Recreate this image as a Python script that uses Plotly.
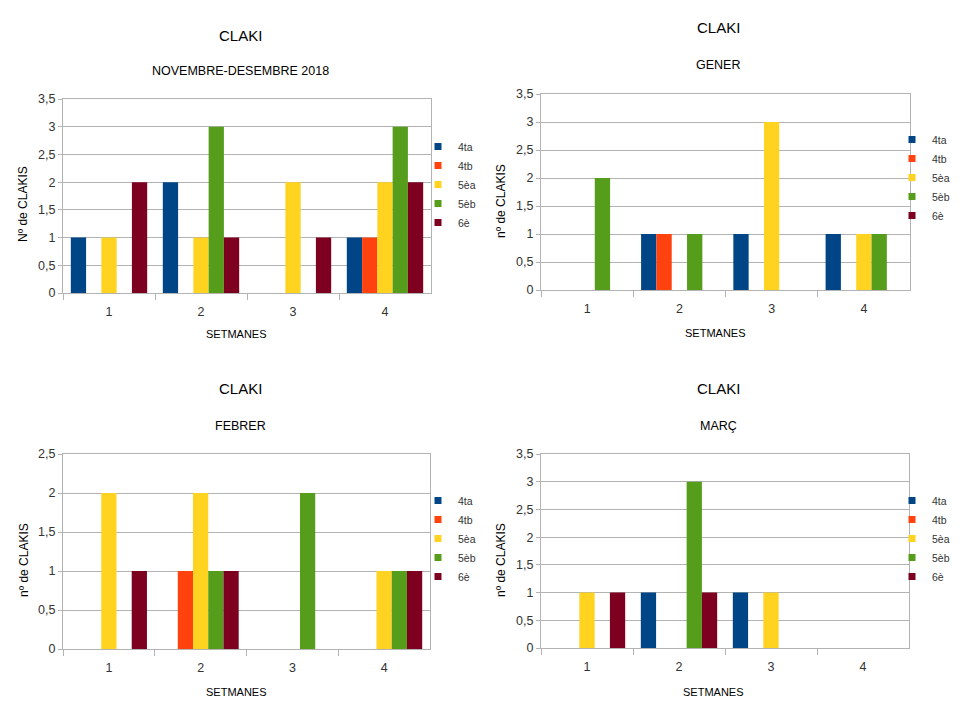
import plotly.graph_objects as go

weeks = ["1", "2", "3", "4"]
groups = ["4ta", "4tb", "5èa", "5èb", "6è"]
colors = ["#004586", "#ff420e", "#ffd320", "#579d1c", "#7e0021"]

novdes = {"4ta": [1, 2, 0, 1], "4tb": [0, 0, 0, 1], "5èa": [1, 1, 2, 2], "5èb": [0, 3, 0, 3], "6è": [2, 1, 1, 2]}
gener = {"4ta": [0, 1, 1, 1], "4tb": [0, 1, 0, 0], "5èa": [0, 0, 3, 1], "5èb": [2, 1, 0, 1], "6è": [0, 0, 0, 0]}
febrer = {"4ta": [0, 0, 0, 0], "4tb": [0, 1, 0, 0], "5èa": [2, 2, 0, 1], "5èb": [0, 1, 2, 1], "6è": [1, 1, 0, 1]}
marc = {"4ta": [0, 1, 1, 0], "4tb": [0, 0, 0, 0], "5èa": [1, 0, 1, 0], "5èb": [0, 3, 0, 0], "6è": [1, 1, 0, 0]}

# layout positions in page pixels (the page body adds an 8 px margin)
panels = [
    dict(data=novdes, sub="NOVEMBRE-DESEMBRE 2018", ytitle="Nº de CLAKIS", ymax=3.5,
         dom_x=(63, 431), dom_y=(99, 293), tx=240, title_y=36, sub_y=71, xt=(236, 334), yt=(23, 204),
         leg=(418, 132)),
    dict(data=gener, sub="GENER", ytitle="nº de CLAKIS", ymax=3.5,
         dom_x=(541, 910), dom_y=(94, 290), tx=718, title_y=28, sub_y=65, xt=(715, 333), yt=(501, 201),
         leg=(892, 125)),
    dict(data=febrer, sub="FEBRER", ytitle="nº de CLAKIS", ymax=2.5,
         dom_x=(63, 430), dom_y=(454, 649), tx=240, title_y=388, sub_y=426, xt=(236, 692), yt=(24, 560),
         leg=(418, 486)),
    dict(data=marc, sub="MARÇ", ytitle="nº de CLAKIS", ymax=3.5,
         dom_x=(541, 909), dom_y=(454, 648), tx=718, title_y=388, sub_y=426, xt=(713, 692), yt=(501, 560),
         leg=(892, 486)),
]

OFF = 8
W, H = 952, 712
FONT = "Liberation Sans, Arial, sans-serif"
GRID = "#b3b3b3"
TXT = "#333333"


def px(x):
    return (x - OFF) / W


def py(y):
    return 1 - (y - OFF) / H


fig = go.Figure()
layout = dict(
    width=W, height=H, margin=dict(l=0, r=0, t=0, b=0, autoexpand=False),
    paper_bgcolor="white", plot_bgcolor="white",
    separators=",.", bargap=0.17, bargroupgap=0, barmode="group",
    font=dict(family=FONT, color=TXT, size=12),
    annotations=[],
)


def label(text, x, y, size, angle=0):
    return dict(text=text, x=px(x), y=py(y), xref="paper", yref="paper",
                xanchor="center", yanchor="middle", showarrow=False, textangle=angle,
                font=dict(size=size, color="#000000"))


for i, p in enumerate(panels):
    n = "" if i == 0 else str(i + 1)
    xa, ya = "x" + n, "y" + n
    leg = "legend" + n
    for g, c in zip(groups, colors):
        fig.add_trace(go.Bar(x=weeks, y=p["data"][g], name=g, marker_color=c,
                             marker_line_width=0, xaxis=xa, yaxis=ya,
                             showlegend=False, legendgroup=g + n))
        fig.add_trace(go.Scatter(x=[None], y=[None], mode="markers", name=g,
                                 marker=dict(symbol="square", size=7, color=c),
                                 xaxis=xa, yaxis=ya, legend=leg, showlegend=True,
                                 legendgroup=g + n))
    x0, x1 = p["dom_x"]
    yt_, yb = p["dom_y"]
    layout["xaxis" + n] = dict(
        domain=[px(x0), px(x1)], anchor=ya, type="category",
        showline=True, linecolor=GRID, linewidth=1, mirror=True,
        ticks="outside", tickson="boundaries", ticklen=6, tickcolor=GRID,
        ticklabelstandoff=7,
        showgrid=False, tickfont=dict(size=12.5, color=TXT), fixedrange=True,
    )
    layout["yaxis" + n] = dict(
        domain=[py(yb), py(yt_)], anchor=xa, range=[0, p["ymax"]], dtick=0.5,
        showline=True, linecolor=GRID, linewidth=1, mirror=True,
        ticks="outside", ticklen=4, tickcolor=GRID,
        showgrid=True, gridcolor=GRID, gridwidth=1, zeroline=False,
        tickfont=dict(size=12.5, color=TXT), fixedrange=True,
    )
    lx, ly = p["leg"]
    layout[leg] = dict(x=px(lx), y=py(ly), xanchor="left", yanchor="top",
                       font=dict(size=10.5, color=TXT), itemwidth=30,
                       bgcolor="rgba(0,0,0,0)", tracegroupgap=0)
    layout["annotations"] += [
        label("CLAKI", p["tx"], p["title_y"], 15),
        label(p["sub"], p["tx"], p["sub_y"], 12.5),
        label("SETMANES", p["xt"][0], p["xt"][1], 11),
        label(p["ytitle"], p["yt"][0], p["yt"][1], 12, -90),
    ]

fig.update_layout(**layout)
fig.write_html("out.html")
